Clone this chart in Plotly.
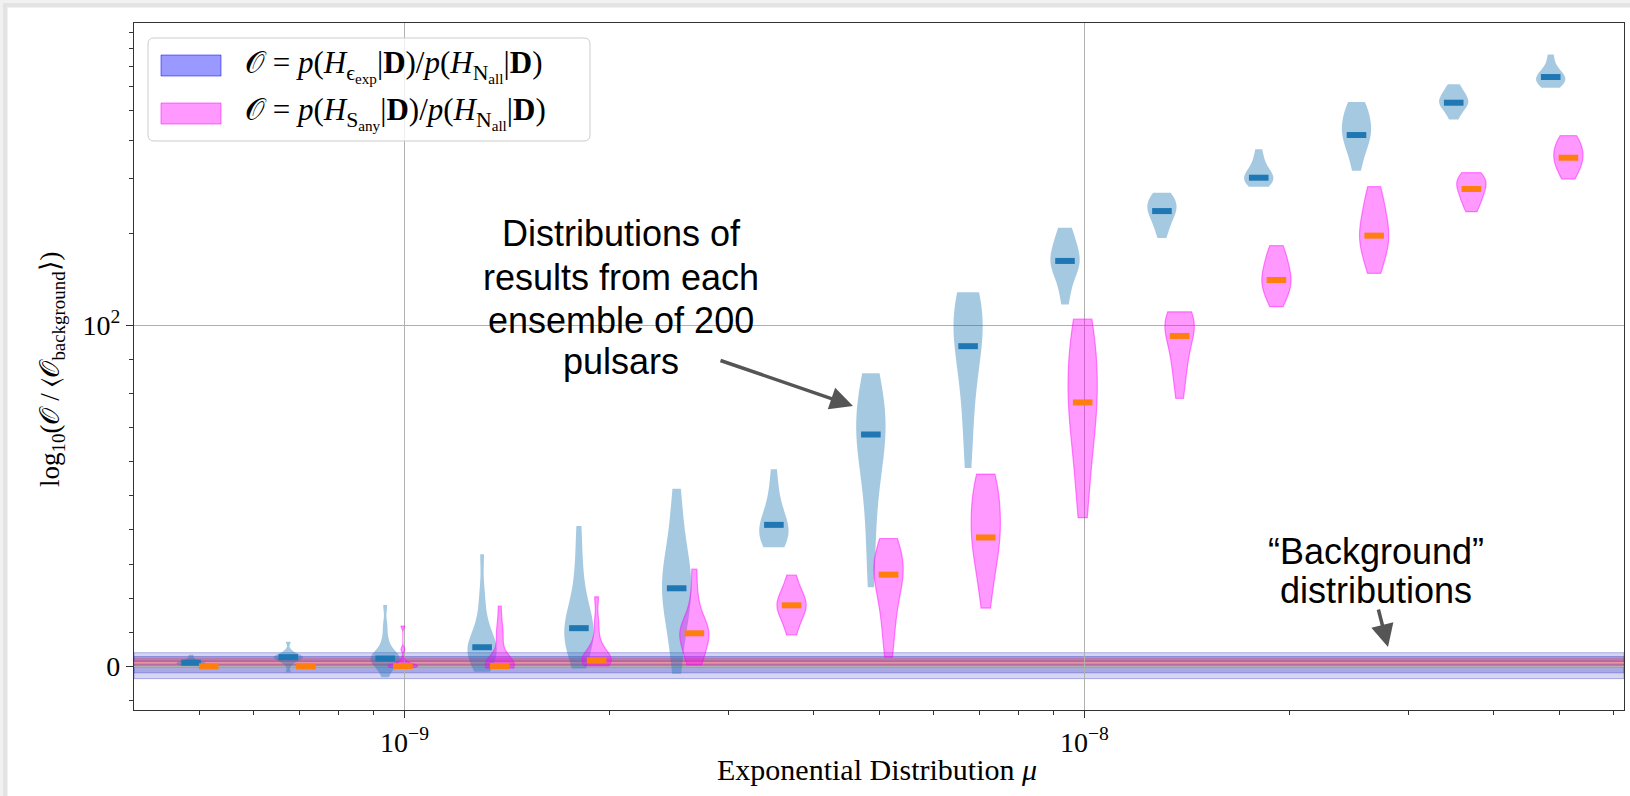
import numpy as np
import plotly.graph_objects as go

# ---------------- data ----------------
MU = [5.0e-10, 6.95e-10, 9.65e-10, 1.34e-9, 1.86e-9, 2.59e-9, 3.6e-9, 5.0e-9,
      6.95e-9, 9.65e-9, 1.34e-8, 1.86e-8, 2.59e-8, 3.6e-8, 5.0e-8]

EXP_SAMPLES = [
    [0.1, 0.3, 0.5, 0.7, 0.9, 1.0, 1.1, 1.2, 1.4, 1.7, 2.4, 3.4],
    [-1.7, 0.6, 1.5, 2.0, 2.3, 2.6, 2.7, 2.9, 3.2, 3.6, 4.6, 7.2],
    [-3.2, -1.0, 0.3, 1.2, 1.8, 2.2, 2.3, 2.6, 3.2, 4.0, 5.5, 8.0, 12.0, 18.0],
    [-1.6, 0.5, 2.0, 3.0, 4.0, 5.0, 5.6, 6.5, 7.5, 9.0, 12.0, 16.0, 22.0, 32.9],
    [-0.6, 2.5, 5.0, 7.0, 8.5, 10.0, 11.2, 12.5, 14.0, 16.5, 20.0, 25.0, 32.0, 41.2],
    [-2.2, 5.0, 11.0, 15.0, 18.0, 20.5, 22.9, 25.0, 27.0, 29.5, 33.0, 38.0, 45.0, 52.1],
    [34.9, 36.0, 37.0, 38.0, 39.5, 41.0, 41.5, 43.0, 45.0, 48.0, 52.0, 57.8],
    [23.2, 35.0, 45.0, 53.0, 59.0, 63.0, 66.0, 68.0, 70.0, 73.0, 76.0, 79.0, 82.0, 86.0],
    [58.2, 68.0, 76.0, 83.0, 88.0, 92.0, 93.9, 97.0, 101.0, 106.0, 112.0, 118.0, 123.0, 128.3],
    [116.9, 130.0, 142.0, 150.0, 156.0, 160.0, 162.2, 166.0, 172.0, 180.0, 190.0, 200.0, 208.1],
    [192.5, 205.0, 215.0, 224.0, 231.0, 235.8, 240.0, 246.0, 252.0, 258.0, 263.0, 270.8],
    [283.1, 288.0, 293.0, 298.0, 302.9, 307.0, 312.0, 320.0, 332.0, 350.0, 374.8],
    [319.3, 350.0, 375.0, 395.0, 410.0, 417.2, 430.0, 445.0, 460.0, 480.0, 500.0, 520.0, 534.6],
    [469.2, 490.0, 508.0, 520.0, 528.0, 531.7, 540.0, 550.0, 560.0, 575.0, 592.0, 610.5],
    [595.3, 605.0, 615.0, 625.0, 635.0, 644.7, 652.0, 662.0, 680.0, 710.0, 764.1],
]
EXP_MEDIANS = [1.1, 2.7, 2.3, 5.6, 11.2, 22.9, 41.5, 68.0, 93.9, 162.2,
               235.8, 302.9, 417.2, 531.7, 644.7]

ANY_SAMPLES = [
    [],
    [],
    [-0.3, -0.2, -0.1, 0.0, 0.1, 0.1, 0.2, 0.4, 0.8, 2.0, 5.0, 11.8],
    [-0.5, -0.3, -0.2, -0.1, 0.0, 0.1, 0.1, 0.2, 0.3, 0.5, 0.8, 1.5, 3.0, 6.0, 9.0,
     10.0, 13.0, 17.7],
    [0.1, 0.5, 1.0, 1.4, 1.8, 2.2, 2.8, 3.5, 5.0, 8.0, 13.0, 20.4],
    [0.4, 1.5, 3.5, 6.0, 8.0, 9.0, 9.7, 10.5, 11.5, 13.0, 16.0, 21.0, 28.5],
    [9.2, 12.0, 14.5, 16.0, 17.0, 17.9, 18.8, 20.0, 21.5, 23.5, 26.8],
    [2.7, 8.0, 13.0, 17.0, 20.5, 23.5, 25.5, 26.9, 28.5, 30.0, 31.5, 33.0, 35.0, 37.5],
    [17.1, 24.0, 29.0, 33.0, 36.0, 37.8, 40.0, 43.0, 46.0, 49.0, 52.0, 54.5, 56.4],
    [43.6, 52.0, 60.0, 66.0, 71.0, 75.0, 77.4, 80.0, 84.0, 88.0, 92.0, 96.0, 100.0, 104.8],
    [78.6, 84.0, 88.0, 91.0, 94.0, 96.9, 99.0, 101.0, 103.0, 105.0, 107.5, 110.7],
    [115.1, 122.0, 128.0, 133.0, 137.0, 140.6, 145.0, 150.0, 157.0, 165.0, 173.0, 181.9],
    [147.8, 160.0, 172.0, 182.0, 190.0, 196.1, 204.0, 215.0, 228.0, 245.0, 263.0, 283.1],
    [234.8, 245.0, 255.0, 263.0, 270.0, 278.3, 284.0, 290.0, 296.0, 302.0, 308.0, 314.6],
    [299.9, 312.0, 325.0, 335.0, 344.0, 351.9, 360.0, 370.0, 380.0, 392.0, 404.0, 415.2],
]
ANY_MEDIANS = [0.0, 0.0, 0.1, 0.1, 1.8, 9.7, 17.9, 26.9, 37.8, 77.4,
               96.9, 140.6, 196.1, 278.3, 351.9]

# background distributions (horizontal bands)
BG_EXP_BANDS = [(-3.6, 4.0), (-1.9, 2.9)]
BG_ANY_BANDS = [(-0.3, 2.6), (0.5, 1.8)]
BG_ANY_MEAN = 1.0

X_TICKS = [1e-9, 1e-8]
X_TICK_TEXT = ["10<sup>\u22129</sup>", "10<sup>\u22128</sup>"]
X_MINOR = [5e-10, 6e-10, 7e-10, 8e-10, 9e-10, 2e-9, 3e-9, 4e-9, 5e-9, 6e-9, 7e-9,
           8e-9, 9e-9, 2e-8, 3e-8, 4e-8, 5e-8, 6e-8]
Y_TICKS = [0, 100]
Y_TICK_TEXT = ["0", "10<sup>2</sup>"]
Y_MINOR = [-10, 10, 20, 30, 40, 50, 60, 70, 80, 90, 200, 300, 400, 500, 600, 700, 800, 900]
X_LIMITS = [4.0e-10, 6.22e-8]
Y_LIMITS = [-12.8, 967.0]

# ---------------- helpers ----------------
LINTHRESH = 100.0
LINSCALE_ADJ = 1.0 / (1.0 - 1.0 / 10.0)


def symlog(v):
    v = np.asarray(v, dtype=float)
    a = np.abs(v)
    lin = v / LINTHRESH * LINSCALE_ADJ
    lg = np.sign(v) * (LINSCALE_ADJ + np.log10(np.maximum(a, LINTHRESH) / LINTHRESH))
    return np.where(a <= LINTHRESH, lin, lg)


W, H = 1630, 796
ML, MR, MT, MB = 134, 6, 23, 86
PW, PH = W - ML - MR, H - MT - MB


def px2x(px):
    return (px - ML) / PW


def py2y(py):
    return (H - MB - py) / PH


DX = 0.013          # half offset between the two violins (in decades)
VW = 0.043          # violin width (in decades)
SERIF = "Liberation Serif"
SANS = "Liberation Sans"

xr = [float(np.log10(X_LIMITS[0])), float(np.log10(X_LIMITS[1]))]
yr = [float(symlog(Y_LIMITS[0])), float(symlog(Y_LIMITS[1]))]

fig = go.Figure()

# invisible trace so that the log x axis (ticks, grid) is drawn
fig.add_trace(go.Scatter(x=X_LIMITS, y=[yr[0], yr[0]], xaxis="x", yaxis="y", mode="none",
                         showlegend=False, hoverinfo="skip"))

for m, s in zip(MU, EXP_SAMPLES):
    if not s:
        continue
    fig.add_trace(go.Violin(
        x0=float(np.log10(m) - DX), y=symlog(s), xaxis="x2", yaxis="y",
        width=VW, scalemode="width", spanmode="hard", points=False,
        fillcolor="rgba(31,119,180,0.4)", line=dict(width=0, color="rgba(31,119,180,0.4)"),
        showlegend=False, hoverinfo="skip", orientation="v"))

for m, s in zip(MU, ANY_SAMPLES):
    if not s:
        continue
    fig.add_trace(go.Violin(
        x0=float(np.log10(m) + DX), y=symlog(s), xaxis="x2", yaxis="y",
        width=VW, scalemode="width", spanmode="hard", points=False,
        fillcolor="rgba(255,0,255,0.4)", line=dict(width=1.2, color="rgba(255,0,255,0.45)"),
        showlegend=False, hoverinfo="skip", orientation="v"))

fig.add_trace(go.Scatter(
    x=np.log10(MU) - DX, y=symlog(EXP_MEDIANS), xaxis="x2", yaxis="y", mode="markers",
    marker=dict(symbol="line-ew", size=14, line=dict(width=6, color="#1f77b4")),
    showlegend=False, hoverinfo="skip"))
fig.add_trace(go.Scatter(
    x=np.log10(MU) + DX, y=symlog(ANY_MEDIANS), xaxis="x2", yaxis="y", mode="markers",
    marker=dict(symbol="line-ew", size=14, line=dict(width=6, color="#ff7f0e")),
    showlegend=False, hoverinfo="skip"))

shapes = []
# background bands
for (lo, hi), fc in zip(BG_EXP_BANDS, ["rgba(50,50,190,0.2)", "rgba(50,50,190,0.28)"]):
    shapes.append(dict(type="rect", xref="paper", yref="y", x0=0, x1=1,
                       y0=float(symlog(lo)), y1=float(symlog(hi)), fillcolor=fc,
                       line=dict(width=1, color="rgba(50,50,190,0.35)"), layer="below"))
for (lo, hi), fc in zip(BG_ANY_BANDS, ["rgba(210,30,70,0.3)", "rgba(210,30,70,0.25)"]):
    shapes.append(dict(type="rect", xref="paper", yref="y", x0=0, x1=1,
                       y0=float(symlog(lo)), y1=float(symlog(hi)), fillcolor=fc,
                       line=dict(width=0), layer="below"))
shapes.append(dict(type="line", xref="paper", yref="y", x0=0, x1=1,
                   y0=float(symlog(BG_ANY_MEAN)), y1=float(symlog(BG_ANY_MEAN)),
                   line=dict(width=1.2, color="rgba(255,170,180,0.9)"), layer="below"))

# page shadow (top / left edges)
for a, b, col in [(0, 8, "#f1f1f1"), (3, 7, "#e3e3e3")]:
    shapes.append(dict(type="rect", xref="paper", yref="paper",
                       x0=px2x(a), x1=px2x(b), y0=py2y(a), y1=py2y(H),
                       fillcolor=col, line=dict(width=0), layer="below"))
    shapes.append(dict(type="rect", xref="paper", yref="paper",
                       x0=px2x(a), x1=px2x(W), y0=py2y(a), y1=py2y(b),
                       fillcolor=col, line=dict(width=0), layer="below"))


def rrect(x0, y0, x1, y1, r):
    pts = [("M", x0 + r, y0), ("L", x1 - r, y0), ("Q", x1, y0, x1, y0 + r),
           ("L", x1, y1 - r), ("Q", x1, y1, x1 - r, y1), ("L", x0 + r, y1),
           ("Q", x0, y1, x0, y1 - r), ("L", x0, y0 + r), ("Q", x0, y0, x0 + r, y0)]
    out = []
    for p in pts:
        cmd, coords = p[0], p[1:]
        xy = []
        for i in range(0, len(coords), 2):
            xy.append(f"{px2x(coords[i]):.5f},{py2y(coords[i + 1]):.5f}")
        out.append(cmd + " " + " ".join(xy))
    return " ".join(out) + " Z"


# manual legend
shapes.append(dict(type="path", xref="paper", yref="paper",
                   path=rrect(148, 38, 590, 141, 6), fillcolor="rgba(255,255,255,0.8)",
                   line=dict(width=1, color="#cccccc"), layer="above"))
shapes.append(dict(type="rect", xref="paper", yref="paper",
                   x0=px2x(161), x1=px2x(221), y0=py2y(55), y1=py2y(76),
                   fillcolor="rgba(0,0,255,0.4)", line=dict(width=1, color="rgba(0,0,255,0.5)"),
                   layer="above"))
shapes.append(dict(type="rect", xref="paper", yref="paper",
                   x0=px2x(161), x1=px2x(221), y0=py2y(103), y1=py2y(124),
                   fillcolor="rgba(255,0,255,0.4)", line=dict(width=1, color="rgba(255,0,255,0.5)"),
                   layer="above"))

LEG1 = ("\U0001D4AA = <i>p</i>(<i>H</i><sub>\u03f5<sub>exp</sub></sub>|<b>D</b>)"
        "/<i>p</i>(<i>H</i><sub>N<sub>all</sub></sub>|<b>D</b>)")
LEG2 = ("\U0001D4AA = <i>p</i>(<i>H</i><sub>S<sub>any</sub></sub>|<b>D</b>)"
        "/<i>p</i>(<i>H</i><sub>N<sub>all</sub></sub>|<b>D</b>)")

annotations = [
    dict(text=LEG1, x=px2x(243), y=py2y(66), xref="paper", yref="paper", xanchor="left",
         yanchor="middle", showarrow=False, font=dict(family=SERIF, size=31, color="black")),
    dict(text=LEG2, x=px2x(243), y=py2y(113), xref="paper", yref="paper", xanchor="left",
         yanchor="middle", showarrow=False, font=dict(family=SERIF, size=31, color="black")),
    # axis titles
    dict(text="Exponential Distribution <i>\u03bc</i>", x=px2x(877), y=py2y(769),
         xref="paper", yref="paper", showarrow=False, xanchor="center", yanchor="middle",
         font=dict(family=SERIF, size=30, color="black")),
    dict(text="log<sub>10</sub>(\U0001D4AA / \u27e8\U0001D4AA<sub>background</sub>\u27e9)",
         x=px2x(52), y=py2y(369), xref="paper", yref="paper", showarrow=False,
         textangle=-90, xanchor="center", yanchor="middle",
         font=dict(family=SERIF, size=27, color="black")),
]

NOTE1 = ["Distributions of", "results from each", "ensemble of 200", "pulsars"]
NOTE1_Y = [233, 277, 320, 361]
for t, yy in zip(NOTE1, NOTE1_Y):
    annotations.append(dict(text=t, x=px2x(621), y=py2y(yy), xref="paper", yref="paper",
                            showarrow=False, xanchor="center", yanchor="middle",
                            font=dict(family=SANS, size=36, color="black")))
NOTE2 = ["\u201cBackground\u201d", "distributions"]
NOTE2_Y = [551, 590]
for t, yy in zip(NOTE2, NOTE2_Y):
    annotations.append(dict(text=t, x=px2x(1376), y=py2y(yy), xref="paper", yref="paper",
                            showarrow=False, xanchor="center", yanchor="middle",
                            font=dict(family=SANS, size=36, color="black")))

# arrows
for (hx, hy), (tx, ty) in [((853, 406), (719, 360)), ((1388, 647), (1378, 608))]:
    annotations.append(dict(text="", x=px2x(hx), y=py2y(hy), xref="paper", yref="paper",
                            ax=tx - hx, ay=ty - hy, showarrow=True, arrowhead=2,
                            arrowsize=1.3, arrowwidth=3.5, arrowcolor="#555555",
                            standoff=0, startstandoff=0))

axis_line = dict(showline=True, linecolor="#333333", linewidth=1.3, mirror=True)

fig.update_layout(
    width=W, height=H, margin=dict(l=ML, r=MR, t=MT, b=MB, autoexpand=False),
    paper_bgcolor="white", plot_bgcolor="white", violinmode="overlay",
    showlegend=False, hovermode=False,
    xaxis=dict(type="log", range=xr, tickmode="array", tickvals=X_TICKS, ticktext=X_TICK_TEXT,
               ticks="outside", ticklen=7, tickwidth=1.2, tickcolor="#333333",
               showgrid=True, gridcolor="#b0b0b0", gridwidth=1, zeroline=False,
               tickfont=dict(family=SERIF, size=28, color="black"),
               minor=dict(tickmode="array", tickvals=X_MINOR, ticks="outside", ticklen=4,
                          tickwidth=1, tickcolor="#333333", showgrid=False),
               anchor="y", **axis_line),
    xaxis2=dict(type="linear", range=xr, overlaying="x", anchor="y", visible=False),
    yaxis=dict(range=yr, tickmode="array", tickvals=[float(v) for v in symlog(Y_TICKS)],
               ticktext=Y_TICK_TEXT, ticks="outside", ticklen=7, tickwidth=1.2,
               tickcolor="#333333", showgrid=True, gridcolor="#b0b0b0", gridwidth=1,
               zeroline=False, tickfont=dict(family=SERIF, size=28, color="black"),
               minor=dict(tickmode="array", tickvals=[float(v) for v in symlog(Y_MINOR)],
                          ticks="outside", ticklen=4, tickwidth=1, tickcolor="#333333",
                          showgrid=False),
               anchor="x", **axis_line),
    shapes=shapes, annotations=annotations,
)

fig.write_html("out.html", config={"displayModeBar": False})
